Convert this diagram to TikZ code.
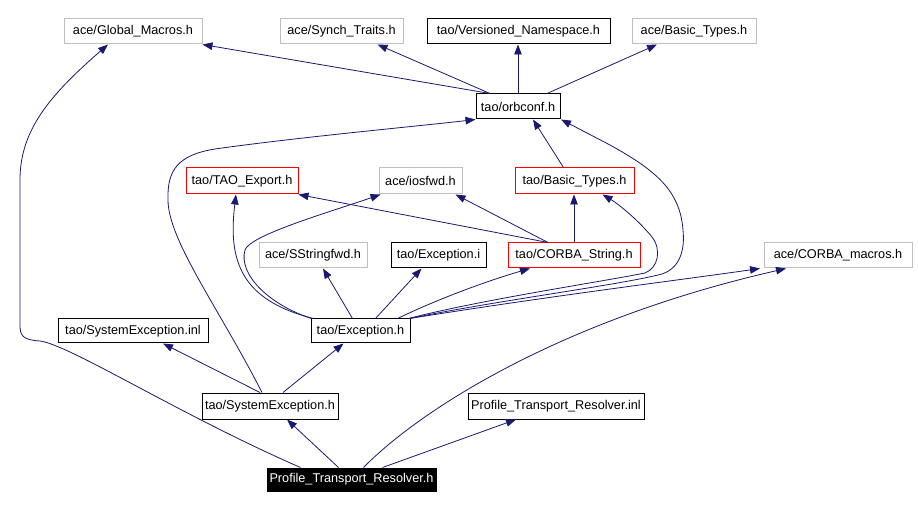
\documentclass[tikz,border=0pt]{standalone}
\usepackage{fontspec}
\setmainfont{Liberation Sans}
\usetikzlibrary{arrows.meta}
\definecolor{edgec}{HTML}{191970}
\definecolor{grayc}{HTML}{BFBFBF}
\begin{document}
\begin{tikzpicture}[x=1pt,y=-1pt,
  box/.style={draw=black,line width=1pt,rectangle,inner sep=0pt,minimum height=25pt,
    font=\fontsize{12.7}{15}\selectfont,fill=white},
  graybox/.style={box,draw=grayc},
  redbox/.style={box,draw=red},
  mainbox/.style={box,fill=black,text=white},
  dep/.style={draw=edgec,line width=0.8pt,-{Triangle[length=10pt,width=7.5pt]}}]
\useasboundingbox[fill=white] (0,0) rectangle (918,510);
% nodes
\node[graybox,minimum width=138pt] (gm) at (133,31.5) {ace/Global\_Macros.h};
\node[graybox,minimum width=123pt] (st) at (341.5,31.5) {ace/Synch\_Traits.h};
\node[box,minimum width=183pt] (vn) at (518.5,31.5) {tao/Versioned\_Namespace.h};
\node[graybox,minimum width=124pt] (abt) at (694,31.5) {ace/Basic\_Types.h};
\node[box,minimum width=84pt] (orb) at (518,106.5) {tao/orbconf.h};
\node[redbox,minimum width=112pt,minimum height=26pt] (tao) at (242,181) {tao/TAO\_Export.h};
\node[graybox,minimum width=83pt,minimum height=26pt] (ios) at (420.5,181) {ace/iosfwd.h};
\node[redbox,minimum width=119pt,minimum height=26pt] (tbt) at (574.5,181) {tao/Basic\_Types.h};
\node[graybox,minimum width=108pt] (ssf) at (313,255.5) {ace/SStringfwd.h};
\node[box,minimum width=95pt] (exi) at (438.5,255.5) {tao/Exception.i};
\node[redbox,minimum width=132pt] (cs) at (574,255.5) {tao/CORBA\_String.h};
\node[graybox,minimum width=148pt] (cm) at (838,255.5) {ace/CORBA\_macros.h};
\node[box,minimum width=150pt,minimum height=24pt] (sei) at (133,331) {tao/SystemException.inl};
\node[box,minimum width=99pt,minimum height=24pt] (exh) at (360.5,331) {tao/Exception.h};
\node[box,minimum width=136pt,minimum height=26pt] (seh) at (270,406) {tao/SystemException.h};
\node[box,minimum width=176pt,minimum height=26pt] (ptri) at (556,406) {Profile\_Transport\_Resolver.inl};
\node[mainbox,minimum width=169pt,minimum height=23pt] (ptrh) at (351.5,479.5) {Profile\_Transport\_Resolver.h};
% edges
\draw[dep] ([xshift=-28pt]orb.north) -- (gm.south east);
\draw[dep] ([xshift=-28pt]orb.north) -- ([xshift=36pt]st.south);
\draw[dep] (orb.north) -- (orb.north |- vn.south);
\draw[dep] ([xshift=29pt]orb.north) -- ([xshift=-37pt]abt.south);
\draw[dep] ([xshift=-11pt]tbt.north) -- ([xshift=15pt]orb.south);
\draw[dep] ([xshift=49pt]exh.north) .. controls (500,300) and (620,285) .. (662,274)
  .. controls (680,268) and (685,250) .. (683,230)
  .. controls (680,190) and (655,170) .. (610,145) -- ([xshift=43pt]orb.south);
\draw[dep] ([xshift=-8pt]seh.north) .. controls (220,310) and (168,240) .. (168,200)
  .. controls (167,170) and (178,155) .. (215,149)
  .. controls (300,137) and (420,126) .. (orb.south west);
\draw[dep] ([xshift=-26pt]cs.north) -- (tao.south east);
\draw[dep] ([xshift=-49pt]exh.north) .. controls (270,305) and (238,275) .. (245,250)
  .. controls (250,235) and (330,212) .. ([xshift=-40pt]ios.south);
\draw[dep] ([xshift=-47pt]exh.north) .. controls (240,300) and (228,260) .. ([xshift=-6pt]tao.south);
\draw[dep] ([xshift=-26pt]cs.north) -- ([xshift=35pt]ios.south);
\draw[dep] (cs.north) -- (cs.north |- tbt.south);
\draw[dep] ([xshift=48pt]exh.north) .. controls (480,300) and (600,282) .. (645,273)
  .. controls (658,268) and (662,250) .. (652,237)
  .. controls (640,222) and (620,205) .. ([xshift=28pt]tbt.south);
\draw[dep] ([xshift=-8pt]exh.north) -- ([xshift=10pt]ssf.south);
\draw[dep] ([xshift=15pt]exh.north) -- ([xshift=-17pt]exi.south);
\draw[dep] ([xshift=37pt]exh.north) .. controls (440,298) and (490,280) .. ([xshift=-44pt]cs.south);
\draw[dep] ([xshift=49pt]exh.north) .. controls (550,296) and (680,280) .. ([xshift=-78pt]cm.south);
\draw[dep] ([xshift=-10pt]seh.north) -- ([xshift=30pt]sei.south);
\draw[dep] ([xshift=13pt]seh.north) -- ([xshift=-17pt]exh.south);
\draw[dep] ([xshift=-13pt]ptrh.north) -- ([xshift=17pt]seh.south);
\draw[dep] ([xshift=31pt]ptrh.north) -- ([xshift=-40pt]ptri.south);
\draw[dep] ([xshift=12pt]ptrh.north) .. controls (420,410) and (560,320) .. ([xshift=-52pt]cm.south);
\draw[dep] ([xshift=-51pt]ptrh.north) .. controls (180,415) and (70,345) .. (40,341)
  .. controls (22,340) and (20,335) .. (20,325) -- (20,180)
  .. controls (20,130) and (50,95) .. ([xshift=-25pt]gm.south);
\end{tikzpicture}
\end{document}
